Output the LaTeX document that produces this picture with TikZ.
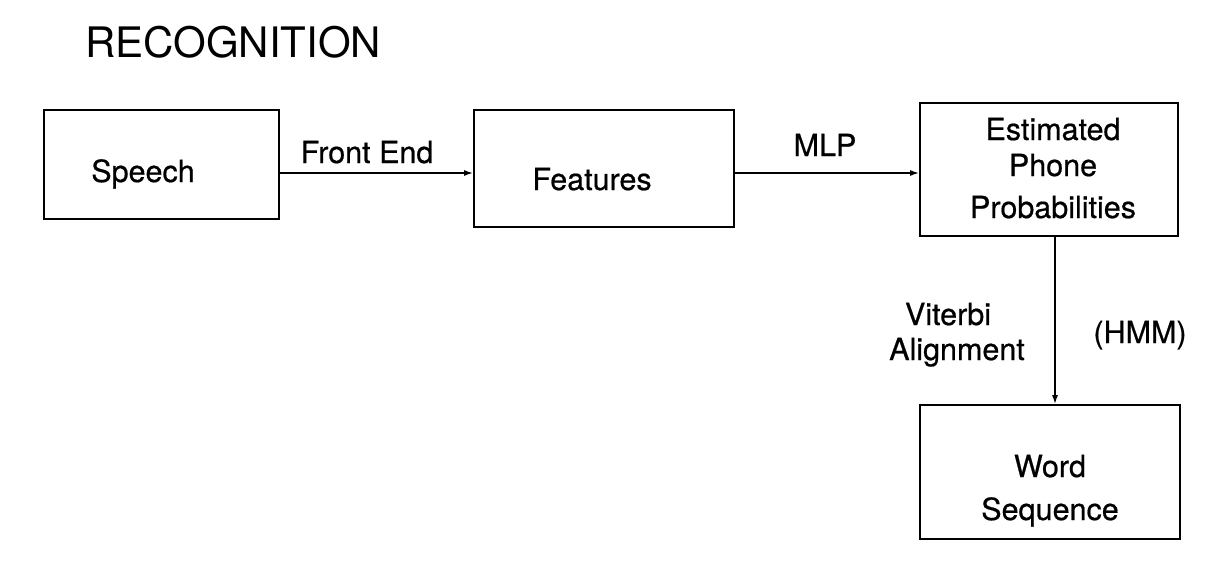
\documentclass[tikz,border=0pt]{standalone}
\usepackage{fontspec}
\setmainfont[FakeBold=0.6]{TeX Gyre Heros}
\newfontfamily\titlefont{TeX Gyre Heros}
\usetikzlibrary{arrows.meta}
\begin{document}
\begin{tikzpicture}[x=1pt,y=-1pt,
  box/.style={draw, line width=1.7pt, inner sep=0pt},
  txt/.style={inner sep=0pt, anchor=base, font=\fontsize{30.5}{36}\selectfont},
  conn/.style={line width=1.6pt, -{Latex[length=9pt,width=6pt]}}]
\useasboundingbox (0,0) rectangle (1226,562);
% title
\node[inner sep=0pt, anchor=base west, font=\titlefont\fontsize{42}{48}\selectfont] (title) at (85,57) {RECOGNITION};
% boxes
\node[box, minimum width=235pt, minimum height=109pt] (speech) at (161.5,164.5) {};
\node[box, minimum width=260pt, minimum height=117pt] (features) at (604,168.5) {};
\node[box, minimum width=258pt, minimum height=133pt] (phone) at (1049,169.5) {};
\node[box, minimum width=260pt, minimum height=134pt] (word) at (1050,472) {};
% box texts
\node[txt] (tspeech) at (143,182) {Speech};
\node[txt] (tfeat) at (592,190) {Features};
\node[txt] (tp1) at (1053,140) {Estimated};
\node[txt] (tp2) at (1053,176) {Phone};
\node[txt] (tp3) at (1053,218) {Probabilities};
\node[txt] (tw1) at (1050,477) {Word};
\node[txt] (tw2) at (1050,520) {Sequence};
% connectors
\draw[conn] (speech.east |- 0,173) -- (features.west |- 0,173);
\draw[conn] (features.east |- 0,173) -- (phone.west |- 0,173);
\draw[conn] (phone.south -| 1055,0) -- (word.north -| 1055,0);
% connector labels
\node[txt] (lfe) at (367,163) {Front End};
\node[txt] (lmlp) at (825,156) {MLP};
\node[txt] (lv1) at (948,325) {Viterbi};
\node[txt] (lv2) at (957,360) {Alignment};
\node[txt] (lhmm) at (1140,343) {(HMM)};
\end{tikzpicture}
\end{document}
